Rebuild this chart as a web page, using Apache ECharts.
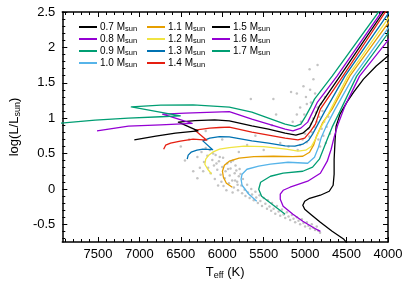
<!DOCTYPE html>
<html><head><meta charset="utf-8">
<script src="https://cdn.jsdelivr.net/npm/echarts@6/dist/echarts.min.js"></script>
<style>html,body{margin:0;padding:0;background:#fff}#c{width:415px;height:291px}</style>
</head><body><div id="c"></div>
<script>
// Track names (stellar masses, Msun)
const masses = ['0.7','0.8','0.9','1.0','1.1','1.2','1.3','1.4','1.5','1.6','1.7'];
const colors = ['#000000','#9400d3','#009e73','#56b4e9','#e69f00','#f0e442','#0072b2','#e51e10','#000000','#9400d3','#009e73'];
// Tracks [Teff, log L]
const t07 = [[4437,-0.854],[4532,-0.712],[4674,-0.599],[4816,-0.472],[4934,-0.358],[5005,-0.288],[5028,-0.231],[5005,-0.174],[4946,-0.132],[4816,-0.089],[4709,-0.033],[4662,0.052],[4650,0.208],[4650,0.42],[4638,0.703],[4626,0.887],[4579,1.057],[4496,1.227],[4414,1.368],[4296,1.552],[4142,1.736],[4000,1.877],[3905,1.976]];
const t08 = [[4816,-0.599],[4887,-0.556],[5028,-0.457],[5147,-0.358],[5265,-0.245],[5300,-0.146],[5300,-0.075],[5265,-0.019],[5182,0.024],[4969,0.109],[4816,0.222],[4733,0.392],[4686,0.561],[4650,0.731],[4603,0.915],[4520,1.17],[4343,1.594],[3988,2.118],[3900,2.23]];
const t09 = [[5241,-0.358],[5383,-0.231],[5525,-0.104],[5560,-0.005],[5537,0.094],[5418,0.179],[5265,0.222],[5028,0.25],[4910,0.307],[4828,0.42],[4780,0.561],[4733,0.703],[4674,0.873],[4579,1.099],[4378,1.594],[3988,2.217],[3900,2.33]];
const t10 = [[5584,-0.174],[5678,-0.075],[5761,0.052],[5773,0.137],[5761,0.208],[5702,0.278],[5560,0.321],[5418,0.349],[5206,0.377],[4969,0.363],[4887,0.448],[4839,0.59],[4804,0.731],[4745,0.887],[4638,1.127],[4414,1.594],[3988,2.288],[3900,2.40]];
const t11 = [[5879,0.024],[5950,0.08],[5986,0.165],[5998,0.25],[5974,0.335],[5915,0.392],[5797,0.434],[5619,0.455],[5383,0.462],[5147,0.455],[5028,0.462],[4946,0.519],[4898,0.618],[4863,0.745],[4792,0.929],[4674,1.127],[4461,1.594],[3988,2.359],[3900,2.47]];
const t12 = [[6128,0.208],[6175,0.278],[6210,0.349],[6199,0.42],[6163,0.477],[6116,0.519],[6033,0.561],[5915,0.583],[5738,0.604],[5501,0.597],[5229,0.561],[5087,0.533],[4993,0.547],[4922,0.604],[4875,0.703],[4816,0.859],[4721,1.057],[4485,1.594],[3988,2.429],[3900,2.54]];
const t13 = [[6423,0.42],[6411,0.477],[6376,0.519],[6305,0.547],[6234,0.561],[6116,0.554],[6234,0.679],[6151,0.717],[6033,0.738],[5915,0.736],[5643,0.679],[5442,0.646],[5241,0.608],[5123,0.604],[5028,0.632],[4957,0.689],[4910,0.774],[4839,0.929],[4768,1.085],[4520,1.594],[4000,2.472],[3905,2.61]];
const t14 = [[6707,0.561],[6683,0.618],[6624,0.646],[6506,0.675],[6352,0.703],[6187,0.689],[6329,0.83],[6151,0.859],[6033,0.868],[5915,0.873],[5643,0.802],[5442,0.76],[5241,0.717],[5087,0.693],[5005,0.717],[4934,0.816],[4875,0.915],[4816,1.127],[4544,1.594],[4024,2.514],[3940,2.63]];
const t15 = [[7061,0.693],[6801,0.745],[6565,0.788],[6293,0.82],[6529,0.944],[6329,0.965],[6092,0.976],[5915,0.962],[5643,0.891],[5442,0.844],[5241,0.788],[5111,0.76],[5028,0.788],[4946,0.873],[4887,1.014],[4828,1.17],[4579,1.594],[4047,2.514],[3970,2.63]];
const t16 = [[7511,0.82],[7132,0.887],[6742,0.905],[6364,0.925],[6719,1.057],[6447,1.071],[6092,1.085],[5915,1.092],[5643,0.986],[5442,0.915],[5241,0.844],[5146,0.82],[5052,0.859],[4969,0.944],[4910,1.085],[4851,1.227],[4615,1.594],[4071,2.514],[3990,2.63]];
const t17 = [[7990,0.925],[7534,0.972],[7132,1.0],[6742,1.02],[6506,1.033],[7097,1.16],[6742,1.184],[6352,1.188],[5915,1.156],[5643,1.085],[5442,1.0],[5241,0.915],[5123,0.883],[5052,0.915],[4993,1.028],[4934,1.156],[4887,1.269],[4674,1.594],[4106,2.514],[4020,2.64]];
const tracks = [t07,t08,t09,t10,t11,t12,t13,t14,t15,t16,t17];
// Observed stars [Teff, log L]
const stars = [[6300,0.45],[6250,0.52],[6220,0.38],[6180,0.47],[6150,0.55],[6120,0.41],[6100,0.33],[6080,0.48],[6060,0.27],[6040,0.39],[6020,0.20],[6000,0.31],[5990,0.44],[5970,0.15],[5960,0.25],[5940,0.36],[5920,0.08],[5910,0.19],[5900,0.29],[5880,0.12],[5870,0.40],[5860,0.02],[5850,0.22],[5840,0.33],[5820,0.10],[5810,-0.02],[5800,0.18],[5790,0.28],[5770,0.05],[5760,-0.06],[5750,0.14],
[6270,0.30],[6230,0.25],[6200,0.58],[6170,0.30],[6140,0.22],[6110,0.50],[6090,0.14],[6070,0.36],[6050,0.05],[6030,0.45],[6010,0.10],[5985,0.04],[5950,-0.02],[5930,0.28],[5895,0.38],[5875,-0.05],[5845,0.12],[5830,0.26],[5815,0.06],[5780,0.21],
[5730,-0.01],[5720,-0.10],[5700,0.06],[5690,-0.05],[5670,-0.13],[5650,0.00],[5640,-0.08],[5620,-0.16],[5600,-0.04],[5590,-0.12],[5570,-0.20],[5550,-0.09],[5540,-0.17],[5520,-0.24],[5500,-0.13],[5480,-0.21],[5460,-0.28],[5450,-0.16],[5430,-0.25],[5410,-0.31],[5400,-0.20],[5380,-0.28],[5360,-0.35],[5340,-0.24],[5320,-0.32],[5300,-0.38],[5280,-0.29],[5260,-0.36],[5240,-0.41],[5220,-0.33],[5200,-0.39],[5180,-0.44],[5160,-0.37],[5140,-0.42],[5120,-0.47],[5100,-0.40],[5080,-0.45],[5060,-0.50],[5040,-0.43],[5020,-0.48],[5000,-0.53],[4980,-0.47],[4960,-0.52],[4940,-0.56],[4920,-0.50],[4900,-0.55],[4880,-0.58],[4860,-0.53],[4840,-0.59],[4820,-0.62],
[5090,0.55],[5060,0.62],[5030,0.70],[5000,0.78],[4980,0.66],[4960,0.85],[4950,0.74],[4930,0.92],[4920,0.80],[4900,1.00],[4890,0.88],[4870,1.08],[4860,0.95],[4850,1.15],[4840,0.70],[4830,1.02],[4820,0.60],[4810,1.20],[4800,0.85],[4790,1.10],[4780,0.75],[4770,0.95],[4760,1.30],[4750,0.65],[4740,0.88],[4720,1.02],[4700,0.78],[5010,1.05],[5050,0.95],[4980,1.20],[4940,1.40],[4900,1.55],
[4946,1.69],[5170,1.37],[5383,1.27],[5655,1.27],[5020,1.45],[4990,1.30],[5060,1.15],[5100,1.05],[4930,1.22],[4880,1.35],
[5600,0.75],[5400,0.90],[5300,0.65],[5200,0.60],[5500,0.55],[6400,0.70],[6200,0.82],[5700,0.62],[5150,0.95],[5350,1.05],[6000,0.70],[5800,0.52],[6500,0.60],[6450,0.40],[6350,0.25],[6300,0.15],[5100,1.35],[4850,1.75]];
// Axis ticks
const xTicks = [4000,4500,5000,5500,6000,6500,7000,7500];
const yTicks = [-0.5,0,0.5,1,1.5,2,2.5];
const yMinor = [-0.7,-0.6,-0.4,-0.3,-0.2,-0.1,0.1,0.2,0.3,0.4,0.6,0.7,0.8,0.9,1.1,1.2,1.3,1.4,1.6,1.7,1.8,1.9,2.1,2.2,2.3,2.4];

const FONT = 'Liberation Sans, Arial, sans-serif';
const chart = echarts.init(document.getElementById('c'), null, {renderer:'canvas'});
const XMIN = 4000, XMAX = 7930, YMIN = -0.75, YMAX = 2.5;
const lineC = '#000';
function xAx(pos, labels){
  return {type:'value', position:pos, inverse:true, min:XMIN, max:XMAX, interval:500,
    axisLine:{show:true, onZero:false, lineStyle:{color:lineC, width:1.5}},
    axisTick:{show:true, inside:true, length:5, customValues:xTicks, lineStyle:{color:lineC, width:1}},
    minorTick:{show:true, splitNumber:5, length:3, lineStyle:{color:lineC, width:1}},
    splitLine:{show:false}, minorSplitLine:{show:false},
    axisLabel:{show:labels, customValues:xTicks, formatter:v=>String(v), color:'#000', fontSize:13, fontFamily:FONT, margin:6},
    name: labels ? '{a|T}{s|eff}{a| (K)}' : '',
    nameLocation:'middle', nameGap:22,
    nameTextStyle:{rich:{a:{fontSize:13, fontFamily:FONT, color:'#000'}, s:{fontSize:9, fontFamily:FONT, color:'#000', padding:[6,0,0,0]}}}
  };
}
function yAx(pos, labels, minor){
  return {type:'value', position:pos, min:YMIN, max:YMAX,
    axisLine:{show:!minor, onZero:false, lineStyle:{color:lineC, width:1.5}},
    axisTick:{show:true, inside:true, length: minor?3:5, customValues: minor? yMinor : yTicks, lineStyle:{color:lineC, width:1}},
    splitLine:{show:false},
    axisLabel:{show:labels, customValues:yTicks, color:'#000', fontSize:13, fontFamily:FONT, margin:7},
    name: labels ? '{a|log(L/L}{s|sun}{a|)}' : '',
    nameLocation:'middle', nameGap:37, nameRotate:90,
    nameTextStyle:{rich:{a:{fontSize:13, fontFamily:FONT, color:'#000'}, s:{fontSize:9, fontFamily:FONT, color:'#000', padding:[6,0,0,0]}}}
  };
}
const series = [{
  type:'scatter', name:'stars', data:stars, xAxisIndex:0, yAxisIndex:0,
  symbolSize:2.5, itemStyle:{color:'#b4b4b4'}, z:1, silent:true
}];
masses.forEach((m,i)=>{
  series.push({type:'line', name:m, data:tracks[i], xAxisIndex:0, yAxisIndex:0,
    showSymbol:false, symbol:'none', smooth:false, clip:true, z:2,
    lineStyle:{color:colors[i], width:1.3, join:'round'}, itemStyle:{color:colors[i]}});
});
function legend(names, left){
  return {show:true, orient:'vertical', left:left, top:21, itemWidth:18, itemHeight:2, itemGap:0,
    icon:'rect', data:names, selectedMode:false, padding:0,
    formatter: n => '{a|'+n+' M}{s|sun}',
    textStyle:{padding:[0,0,0,-2], rich:{a:{fontSize:10, fontFamily:FONT, color:'#000', lineHeight:10.5}, s:{fontSize:7.5, fontFamily:FONT, color:'#000', padding:[4,0,0,0], lineHeight:10.5}}}
  };
}
chart.setOption({
  animation:false,
  backgroundColor:'#fff',
  grid:{left:55, right:27, top:12, bottom:49, containLabel:false},
  xAxis:[xAx('bottom', true), xAx('top', false)],
  yAxis:[yAx('left', true, false), yAx('left', false, true), yAx('right', false, false), yAx('right', false, true)],
  legend:[legend(masses.slice(0,4), 79), legend(masses.slice(4,8), 147), legend(masses.slice(8,11), 212)],
  series:series
});
</script></body></html>
